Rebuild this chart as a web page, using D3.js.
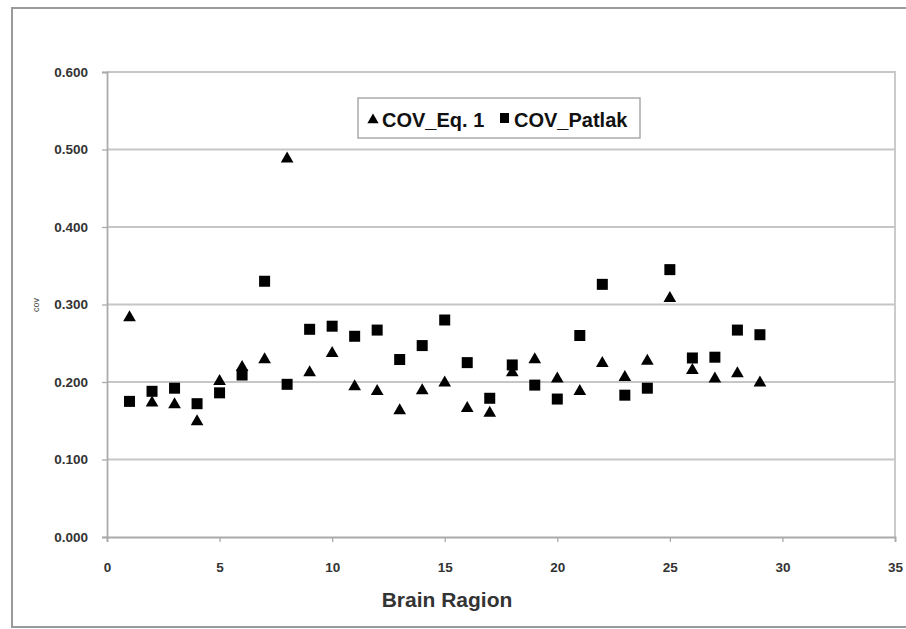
<!DOCTYPE html>
<html><head><meta charset="utf-8">
<script src="https://cdn.jsdelivr.net/npm/d3@7"></script>
<style>body{margin:0;background:#fff;}svg{display:block;}</style>
</head><body>
<svg id="c" width="906" height="629"></svg>
<script>
const regions = [1,2,3,4,5,6,7,8,9,10,11,12,13,14,15,16,17,18,19,20,21,22,23,24,25,26,27,28,29];
const covEq1 = [0.283,0.173,0.171,0.149,0.201,0.219,0.229,0.488,0.212,0.237,0.194,0.188,0.163,0.189,0.199,0.166,0.160,0.212,0.229,0.204,0.188,0.224,0.206,0.227,0.308,0.215,0.204,0.211,0.199];
const covPatlak = [0.175,0.188,0.192,0.172,0.186,0.209,0.330,0.197,0.268,0.272,0.259,0.267,0.229,0.247,0.280,0.225,0.179,0.222,0.196,0.178,0.260,0.326,0.183,0.192,0.345,0.231,0.232,0.267,0.261];
const xTicks = [0,5,10,15,20,25,30,35];
const yTicks = [0,0.1,0.2,0.3,0.4,0.5,0.6];
const seriesNames = ["COV_Eq. 1","COV_Patlak"];

const FONT = "Liberation Sans, Arial, sans-serif";
const svg = d3.select("#c");
const L=107,R=895,T=72,B=537;
const x = d3.scaleLinear().domain([0,35]).range([L,R]);
const y = d3.scaleLinear().domain([0,0.6]).range([B,T]);

// outer frame
svg.append("rect").attr("x",12).attr("y",8).attr("width",906).attr("height",619)
  .attr("fill","none").attr("stroke","#9a9a9a").attr("stroke-width",2);

// gridlines
svg.append("g").selectAll("line").data(yTicks.slice(1)).join("line")
  .attr("x1",L).attr("x2",R).attr("y1",d=>y(d)).attr("y2",d=>y(d))
  .attr("stroke","#c6c6c6").attr("stroke-width",1.8);
svg.append("path").attr("d",`M${L},${T}H${R}V${B}`).attr("fill","none").attr("stroke","#c6c6c6").attr("stroke-width",1.8);

// axes
const yAxis = d3.axisLeft(y).tickValues(yTicks).tickFormat(d3.format(".3f")).tickSize(5).tickPadding(14);
const gy = svg.append("g").attr("transform",`translate(${L},0)`).call(yAxis);
const xAxis = d3.axisBottom(x).tickValues(xTicks).tickSize(5).tickPadding(20);
const gx = svg.append("g").attr("transform",`translate(0,${B})`).call(xAxis);
[gy,gx].forEach(g=>{
  g.select(".domain").attr("stroke","#aaa").attr("stroke-width",1.8);
  g.selectAll(".tick line").attr("stroke","#aaa").attr("stroke-width",1.3);
  g.selectAll("text").attr("font-family",FONT).attr("font-size",13.5).attr("fill","#333").attr("font-weight","bold");
});

// axis titles
svg.append("text").attr("x",447).attr("y",607).attr("text-anchor","middle")
  .attr("font-family",FONT).attr("font-weight","bold").attr("font-size",21).attr("fill","#333").text("Brain Ragion");
svg.append("text").attr("transform","translate(39,305) rotate(-90)").attr("text-anchor","middle")
  .attr("font-family",FONT).attr("font-size",9).attr("fill","#444").text("cov");

// points
const tri = d3.symbol().type(d3.symbolTriangle).size(70);
svg.append("g").selectAll("path").data(regions).join("path")
  .attr("d",tri).attr("transform",(d,i)=>`translate(${x(d)},${y(covEq1[i])})`).attr("fill","#000");
svg.append("g").selectAll("rect").data(regions).join("rect")
  .attr("x",d=>x(d)-5.5).attr("y",(d,i)=>y(covPatlak[i])-5.5).attr("width",11).attr("height",11).attr("fill","#000");

// legend
const lg = svg.append("g");
lg.append("rect").attr("x",358).attr("y",98).attr("width",282).attr("height",40).attr("fill","#fff").attr("stroke","#aaa").attr("stroke-width",1.5);
lg.append("path").attr("d",d3.symbol().type(d3.symbolTriangle).size(55)).attr("transform","translate(373,120)").attr("fill","#000");
lg.append("text").attr("x",382).attr("y",127).attr("font-family",FONT).attr("font-weight","bold").attr("font-size",20).attr("fill","#111").text(seriesNames[0]);
lg.append("rect").attr("x",500).attr("y",113).attr("width",9).attr("height",10).attr("fill","#000");
lg.append("text").attr("x",514).attr("y",127).attr("font-family",FONT).attr("font-weight","bold").attr("font-size",20).attr("fill","#111").text(seriesNames[1]);
</script>
</body></html>
